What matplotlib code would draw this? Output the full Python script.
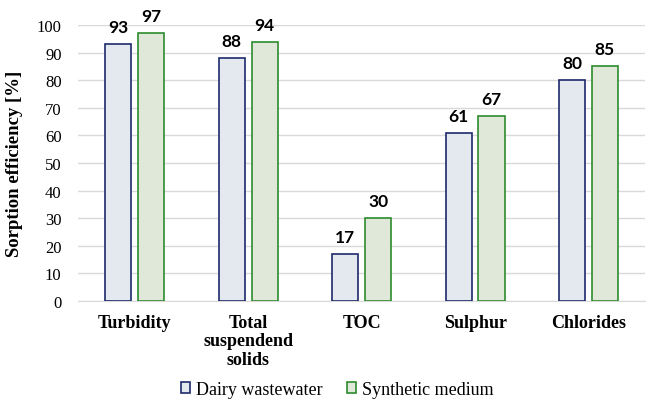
import numpy as np
import matplotlib.pyplot as plt

categories = ["Turbidity", "Total\nsuspendend\nsolids", "TOC", "Sulphur", "Chlorides"]
dairy = [93, 88, 17, 61, 80]
synthetic = [97, 94, 30, 67, 85]

serif = "Liberation Serif"

fig = plt.figure(figsize=(6.57, 4.10), dpi=100)
ax = fig.add_axes([0.119, 0.2634, 0.863, 0.6732])

x = np.arange(len(categories))
w = 0.23
off = 0.145
b1 = ax.bar(x - off, dairy, w, color="#e4e8ef", edgecolor="#1f2a6b", linewidth=1.2,
            label="Dairy wastewater", zorder=3)
b2 = ax.bar(x + off, synthetic, w, color="#dfe8d9", edgecolor="#2e8b2e", linewidth=1.2,
            label="Synthetic medium", zorder=3)

# value labels above each bar
for bars in (b1, b2):
    for r in bars:
        ax.annotate(f"{r.get_height():.0f}", (r.get_x() + r.get_width() / 2, r.get_height()),
                    xytext=(0, 6.5), textcoords="offset points", ha="center", va="bottom",
                    fontsize=12.5, fontweight="bold", family="Lato")

ax.set_xlim(-0.5, len(categories) - 0.5)
ax.set_ylim(0, 100)
ax.set_yticks(range(0, 101, 10))
ax.yaxis.grid(True, color="#d9d9d9", linewidth=1, zorder=0)
for s in ["top", "right", "left"]:
    ax.spines[s].set_visible(False)
ax.spines["bottom"].set_color("#d9d9d9")
ax.tick_params(length=0)
ax.tick_params(axis="y", pad=12)
ax.tick_params(axis="x", pad=9)
ax.set_xticks(x)
ax.set_xticklabels(categories, fontsize=13, fontweight="bold", family=serif,
                   multialignment="center", linespacing=1.15)
for t in ax.get_yticklabels():
    t.set_fontsize(12)
    t.set_family(serif)
ax.set_ylabel("Sorption efficiency [%]", fontsize=13.5, fontweight="bold", family=serif, labelpad=10)

ax.legend(loc="center", bbox_to_anchor=(0.457, -0.32), ncol=2, frameon=False,
          prop={"family": serif, "size": 13}, handlelength=0.5, handleheight=0.5,
          columnspacing=1.4, handletextpad=0.3)

fig.savefig("out.png", dpi=100)
